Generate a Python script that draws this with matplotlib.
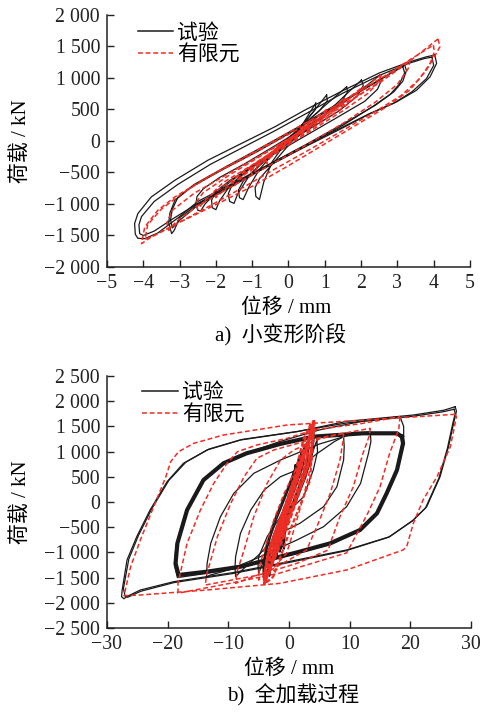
import matplotlib
matplotlib.use('Agg')
import matplotlib.pyplot as plt
from matplotlib.lines import Line2D
from matplotlib.ticker import FuncFormatter, MultipleLocator

plt.rcParams['font.family'] = ['Liberation Serif', 'Noto Sans CJK SC']
plt.rcParams['axes.unicode_minus'] = True

# ---- a) small deformation stage: test loops (mm, kN)
small_test_x = [
    [4.03, 4.08, 3.9, 3.53, 2.98, 2.24, 1.5, 0.5, -0.5, -1.5, -2.5, -3.0, -3.6, -3.96, -4.15, -4.22, -4.24, -4.15, -3.78, -3.13, -2.22, -1.3, -0.38, 0.45, 1.5, 2.5, 3.34, 3.8, 4.03],
    [3.95, 4.0, 3.8, 3.4, 2.9, 2.2, 1.5, 0.5, -0.5, -1.5, -2.5, -3.2, -3.7, -4.0, -4.1, -4.12, -4.05, -3.7, -3.05, -2.15, -1.25, -0.35, 0.5, 1.5, 2.5, 3.3, 3.75, 3.95],
    [3.2, 3.25, 3.15, 2.9, 2.4, 1.5, 0.5, -0.5, -1.5, -2.5, -3.0, -3.15, -3.22, -3.3, -3.27, -3.13, -2.67, -1.76, -0.8, 0.2, 1.2, 2.2, 2.8, 3.2],
    [3.15, 3.2, 3.05, 2.8, 2.3, 1.5, 0.5, -0.5, -1.5, -2.5, -3.0, -3.2, -3.25, -3.2, -3.05, -2.6, -1.7, -0.8, 0.2, 1.2, 2.2, 2.8, 3.15],
    [2.52, 2.56, 2.45, 2.1, 1.3, 0.4, -0.5, -1.4, -2.0, -2.3, -2.42, -2.5, -2.55, -2.52, -2.35, -1.9, -1.2, -0.3, 0.6, 1.5, 2.15, 2.52],
    [2.01, 2.06, 1.9, 1.4, 0.6, -0.3, -1.1, -1.6, -1.9, -2.0, -2.1, -2.12, -2.0, -1.6, -0.9, 0.0, 0.9, 1.55, 2.01],
    [1.6, 1.63, 1.45, 0.9, 0.1, -0.6, -1.1, -1.4, -1.5, -1.62, -1.66, -1.55, -1.2, -0.5, 0.3, 1.0, 1.6],
    [1.05, 1.07, 0.85, 0.3, -0.3, -0.8, -1.1, -1.25, -1.35, -1.38, -1.25, -0.9, -0.3, 0.4, 1.05],
    [0.75, 0.74, 0.45, -0.05, -0.45, -0.68, -0.8, -0.9, -0.92, -0.8, -0.45, 0.1, 0.75],
]
small_test_y = [
    [1364, 1232, 1019, 807, 622, 437, 224, -60, -360, -660, -960, -1200, -1460, -1550, -1545, -1480, -1311, -1152, -888, -623, -305, -40, 224, 490, 800, 1080, 1257, 1337, 1364],
    [1330, 1200, 990, 780, 600, 420, 210, -80, -380, -680, -990, -1240, -1430, -1500, -1470, -1330, -1200, -960, -690, -370, -100, 170, 440, 760, 1040, 1230, 1310, 1330],
    [1205, 1120, 950, 780, 570, 270, -50, -360, -680, -1000, -1220, -1420, -1470, -1300, -1150, -941, -729, -437, -150, 180, 520, 860, 1070, 1205],
    [1180, 1080, 900, 740, 540, 250, -70, -380, -700, -1020, -1260, -1380, -1250, -1080, -900, -690, -400, -120, 200, 540, 870, 1070, 1180],
    [1046, 960, 820, 630, 360, 60, -240, -560, -820, -1000, -1110, -1100, -1000, -880, -760, -580, -360, -50, 270, 600, 880, 1046],
    [967, 880, 720, 480, 200, -120, -440, -700, -950, -1090, -1060, -940, -800, -620, -380, -40, 360, 720, 967],
    [860, 780, 620, 360, 50, -270, -570, -840, -990, -960, -840, -690, -500, -200, 200, 560, 860],
    [730, 640, 480, 200, -120, -450, -740, -930, -900, -780, -640, -440, -140, 260, 730],
    [600, 500, 300, 0, -330, -650, -930, -880, -740, -600, -370, 0, 600],
]

# ---- a) small deformation stage: finite element loops
small_fe_x = [
    [4.12, 4.17, 4.08, 3.8, 3.34, 2.7, 1.78, 0.86, -0.06, -1.0, -2.0, -3.0, -3.8, -4.05, -3.96, -3.6, -3.13, -2.22, -1.3, -0.4, 0.5, 1.5, 2.5, 3.3, 3.9, 4.12],
    [3.99, 4.02, 3.9, 3.6, 3.1, 2.4, 1.5, 0.6, -0.3, -1.2, -2.2, -3.1, -3.7, -3.95, -3.88, -3.5, -2.9, -2.0, -1.1, -0.2, 0.7, 1.7, 2.7, 3.4, 3.99],
    [3.35, 3.3, 3.0, 2.4, 1.5, 0.5, -0.5, -1.5, -2.5, -3.1, -3.3, -3.35, -3.2, -2.6, -1.6, -0.6, 0.4, 1.4, 2.4, 3.0, 3.35],
    [2.55, 2.5, 2.2, 1.5, 0.5, -0.5, -1.5, -2.2, -2.5, -2.55, -2.35, -1.6, -0.6, 0.4, 1.4, 2.1, 2.55],
    [2.05, 2.0, 1.6, 0.8, 0.0, -0.8, -1.6, -2.0, -2.05, -1.8, -1.0, 0.0, 0.9, 1.6, 2.05],
    [1.55, 1.5, 1.1, 0.3, -0.5, -1.2, -1.5, -1.55, -1.3, -0.5, 0.4, 1.1, 1.55],
    [1.05, 1.0, 0.6, -0.1, -0.7, -1.0, -1.05, -0.8, -0.1, 0.6, 1.05],
    [0.6, 0.55, 0.1, -0.4, -0.6, -0.62, -0.3, 0.2, 0.6],
]
small_fe_y = [
    [1620, 1495, 1400, 1125, 807, 542, 224, -94, -412, -720, -1010, -1290, -1530, -1630, -1365, -1100, -888, -570, -300, -20, 260, 580, 920, 1250, 1520, 1620],
    [1522, 1420, 1230, 980, 720, 470, 170, -130, -420, -720, -1040, -1320, -1500, -1560, -1330, -1080, -820, -500, -220, 70, 360, 700, 1050, 1310, 1522],
    [1285, 1150, 900, 620, 280, -60, -380, -700, -1030, -1280, -1420, -1300, -1100, -830, -500, -170, 170, 520, 900, 1150, 1285],
    [1050, 950, 760, 480, 120, -230, -600, -880, -1080, -980, -820, -530, -180, 180, 560, 850, 1050],
    [860, 770, 570, 260, -60, -380, -680, -900, -800, -660, -380, -10, 370, 660, 860],
    [680, 600, 410, 90, -230, -520, -720, -620, -500, -200, 160, 460, 680],
    [500, 420, 230, -50, -300, -540, -450, -330, -10, 280, 500],
    [330, 260, 60, -150, -360, -290, -130, 100, 330],
]

# ---- b) full loading: large test loops (the +-18 mm group is the thick band)
full_test_x = [
    [27.4, 27.6, 27.2, 26.3, 24.9, 22.7, 20.5, 16.6, 9.5, -1.5, -9.2, -19.0, -24.5, -26.8, -27.2, -27.6, -27.5, -26.7, -25.1, -22.9, -20.1, -17.4, -13.5, -8.0, 1.3, 9.5, 20.5, 25.5, 27.4],
    [27.2, 27.4, 27.0, 26.1, 24.7, 22.5, 20.3, 16.4, 9.3, -1.6, -9.3, -19.0, -24.4, -26.6, -27.0, -27.3, -26.4, -24.8, -22.6, -19.8, -17.0, -13.2, -7.8, 1.4, 9.6, 20.4, 25.4, 27.2],
    [18.3, 18.9, 18.9, 17.8, 16.0, 14.3, 11.5, 6.6, 1.0, -8.2, -13.8, -18.4, -18.9, -18.6, -17.0, -14.3, -11.0, -7.2, -1.5, 5.0, 12.0, 18.3],
    [13.4, 13.5, 13.1, 11.8, 9.5, 5.7, 1.3, -5.0, -10.0, -13.0, -13.6, -13.5, -12.9, -11.3, -9.1, -5.8, -1.4, 1.3, 5.0, 10.0, 13.4],
    [9.0, 9.1, 9.0, 7.9, 5.7, 1.8, -1.5, -5.0, -8.0, -8.8, -8.9, -8.8, -8.0, -6.3, -4.1, -1.4, 1.3, 4.5, 7.5, 9.0],
    [4.6, 4.7, 4.0, 2.4, -0.4, -2.5, -4.3, -5.0, -5.1, -5.0, -3.6, -1.4, 1.3, 2.8, 3.8, 4.6],
]
full_test_y = [
    [1890, 1800, 1600, 1100, 502, -93, -357, -688, -952, -1217, -1400, -1581, -1746, -1880, -1920, -1880, -1746, -1151, -688, -159, 403, 768, 1032, 1230, 1395, 1600, 1726, 1820, 1890],
    [1840, 1760, 1560, 1060, 470, -120, -380, -700, -970, -1240, -1420, -1600, -1770, -1890, -1870, -1720, -1130, -660, -130, 430, 790, 1050, 1240, 1400, 1570, 1700, 1790, 1840],
    [1693, 1500, 1150, 620, 150, -250, -580, -850, -1030, -1310, -1420, -1500, -1250, -850, -190, 410, 750, 960, 1200, 1430, 1600, 1693],
    [1396, 1200, 966, 370, -93, -490, -754, -1100, -1350, -1450, -1490, -1217, -820, -291, 172, 569, 833, 966, 1150, 1330, 1396],
    [1296, 1100, 833, 304, -93, -423, -621, -1050, -1380, -1480, -1300, -1085, -621, -159, 238, 502, 635, 950, 1200, 1296],
    [1230, 1000, 635, 105, -225, -700, -1200, -1415, -1250, -1085, -688, -291, 40, 500, 950, 1230],
]
thick_test_x = [18.6, 18.8, 17.8, 16.1, 14.5, 11.7, 6.8, 1.3, -8.0, -13.5, -18.2, -18.7, -18.4, -16.8, -14.1, -10.8, -7.0, -1.5, 4.0, 12.2, 17.8, 18.6]
thick_test_y = [1296, 1164, 635, 172, -225, -556, -820, -1000, -1283, -1382, -1448, -1217, -820, -159, 436, 768, 966, 1150, 1296, 1363, 1363, 1296]

# ---- b) full loading: large finite element loops
full_fe_x = [
    [27.4, 27.6, 26.6, 24.4, 22.1, 20.5, 19.4, 18.8, 9.5, -1.5, -13.5, -24.5, -27.2, -26.9, -26.1, -24.5, -22.3, -20.3, -19.5, -18.2, -15.7, -10.8, -0.3, 12.8, 27.4],
    [18.3, 18.1, 16.6, 15.0, 13.0, 10.4, 9.5, 4.0, -1.5, -10.0, -18.3, -18.3, -16.8, -14.6, -12.4, -10.2, -8.5, -5.3, -0.3, 4.0, 12.2, 18.3],
    [13.4, 13.2, 12.2, 10.6, 8.4, 6.8, 6.5, 1.3, -5.0, -13.8, -13.6, -11.8, -9.6, -7.4, -5.3, -2.5, 4.0, 13.4],
    [9.0, 8.9, 8.4, 6.8, 4.6, 2.9, -3.0, -8.8, -8.6, -7.4, -5.8, -3.6, -1.4, 0.8, 5.0, 9.0],
    [4.0, 4.0, 3.8, 2.4, 0.8, -0.4, -2.5, -5.0, -4.9, -4.1, -2.5, -0.8, 0.8, 2.5, 4.0],
]
full_fe_y = [
    [1740, 1693, 1098, 502, 40, -423, -886, -952, -1349, -1614, -1746, -1845, -1860, -1700, -1283, -754, -93, 502, 800, 998, 1164, 1329, 1528, 1630, 1740],
    [1693, 1450, 970, 300, -220, -810, -1010, -1210, -1410, -1620, -1810, -1614, -820, -159, 371, 768, 998, 1131, 1263, 1429, 1561, 1693],
    [1462, 1300, 966, 304, -291, -820, -950, -1217, -1450, -1647, -1450, -688, -26, 502, 867, 1032, 1250, 1462],
    [1363, 1200, 833, 172, -490, -952, -1350, -1614, -1400, -952, -291, 371, 833, 1032, 1250, 1363],
    [1363, 1150, 833, 105, -556, -1019, -1300, -1548, -1300, -952, -357, 172, 569, 1000, 1363],
]
# outer edges of the dense red band of small FE cycles in b)
band_fe_x = [[4.0, 3.5, 0.2, -2.6, -3.9, -1.4, 1.8, 2.9, 4.0],
             [3.6, 2.6, -0.6, -3.2, -4.2, -2.2, 0.9, 2.4, 3.6]]
band_fe_y = [[1600, 437, -555, -1482, -1614, -555, 767, 1363, 1600],
             [1550, 600, -450, -1350, -1580, -700, 520, 1250, 1550]]

BLACK = '#1a1a1a'
RED = '#ee2d24'
FS = 14.3


def kn_fmt(v, pos):
    s = '{:,}'.format(abs(int(round(v)))).replace(',', ' ')
    return ('\u2212' + s) if v < 0 else s


def mm_fmt(v, pos):
    s = '{:d}'.format(abs(int(round(v))))
    return ('\u2212' + s) if v < 0 else s


def style_axes(ax):
    for side in ['top', 'right']:
        ax.spines[side].set_visible(False)
    for side in ['left', 'bottom']:
        ax.spines[side].set_linewidth(1.1)
        ax.spines[side].set_color('#222222')
    ax.tick_params(direction='in', length=5, width=1, labelsize=FS, pad=5, colors='#222222')
    ax.yaxis.set_major_formatter(FuncFormatter(kn_fmt))
    ax.xaxis.set_major_formatter(FuncFormatter(mm_fmt))


def draw_test(ax, xs, ys, lw=0.9):
    for x, y in zip(xs, ys):
        ax.plot(x, y, color=BLACK, lw=lw, solid_joinstyle='round')


def draw_fe(ax, xs, ys, lw=1.1, dash=(3.2, 1.8)):
    for x, y in zip(xs, ys):
        ax.plot(x, y, color=RED, lw=lw, ls=(0, dash))


fig = plt.figure(figsize=(4.85, 7.18), dpi=100)
ax1 = fig.add_axes([107 / 485, 1 - 267 / 718, 363 / 485, 252 / 718])
ax2 = fig.add_axes([107 / 485, 1 - 628 / 718, 364 / 485, 252 / 718])

# a) small deformation
draw_test(ax1, small_test_x, small_test_y)
draw_fe(ax1, small_fe_x, small_fe_y)
ax1.set_xlim(-5, 5)
ax1.set_ylim(-2000, 2000)
ax1.xaxis.set_major_locator(MultipleLocator(1))
ax1.yaxis.set_major_locator(MultipleLocator(500))

# b) full loading process
draw_test(ax2, full_test_x, full_test_y)
ax2.plot(thick_test_x, thick_test_y, color=BLACK, lw=3.0, solid_joinstyle='round')
draw_test(ax2, small_test_x, small_test_y, lw=1.2)
draw_fe(ax2, full_fe_x, full_fe_y)
draw_fe(ax2, band_fe_x, band_fe_y, lw=1.6, dash=(2.0, 1.0))
draw_fe(ax2, small_fe_x, small_fe_y, lw=1.9, dash=(2.0, 0.8))
ax2.set_xlim(-30, 30)
ax2.set_ylim(-2500, 2500)
ax2.xaxis.set_major_locator(MultipleLocator(10))
ax2.yaxis.set_major_locator(MultipleLocator(500))

handles = [Line2D([], [], color=BLACK, lw=1.1),
           Line2D([], [], color=RED, lw=1.1, ls=(0, (3.2, 1.8)))]
for ax, anchor in [(ax1, (0.085, 0.965)), (ax2, (0.097, 0.97))]:
    style_axes(ax)
    ax.legend(handles, ['试验', '有限元'], loc='upper left', bbox_to_anchor=anchor,
              frameon=False, fontsize=15, handlelength=1.7, handletextpad=0.2,
              labelspacing=0.1, borderaxespad=0, borderpad=0)
    ax.set_xlabel('位移 / mm', fontsize=15)
    ax.set_ylabel('荷载 / kN', fontsize=15)
    ax.xaxis.label.set_va('center')
    ax.yaxis.label.set_va('center')

ax1.xaxis.set_label_coords((286 - 107) / 363, (267 - 308) / 252)
ax1.yaxis.set_label_coords((21 - 107) / 363, 0.5)
ax2.xaxis.set_label_coords((289 - 107) / 364, (628 - 669) / 252)
ax2.yaxis.set_label_coords((21 - 107) / 364, 0.5)

fig.text(281 / 485, 1 - 335 / 718, 'a)  小变形阶段', ha='center', va='center', fontsize=15)
fig.text(293 / 485, 1 - 695 / 718, 'b)  全加载过程', ha='center', va='center', fontsize=15)

fig.savefig('out.png', dpi=100)
